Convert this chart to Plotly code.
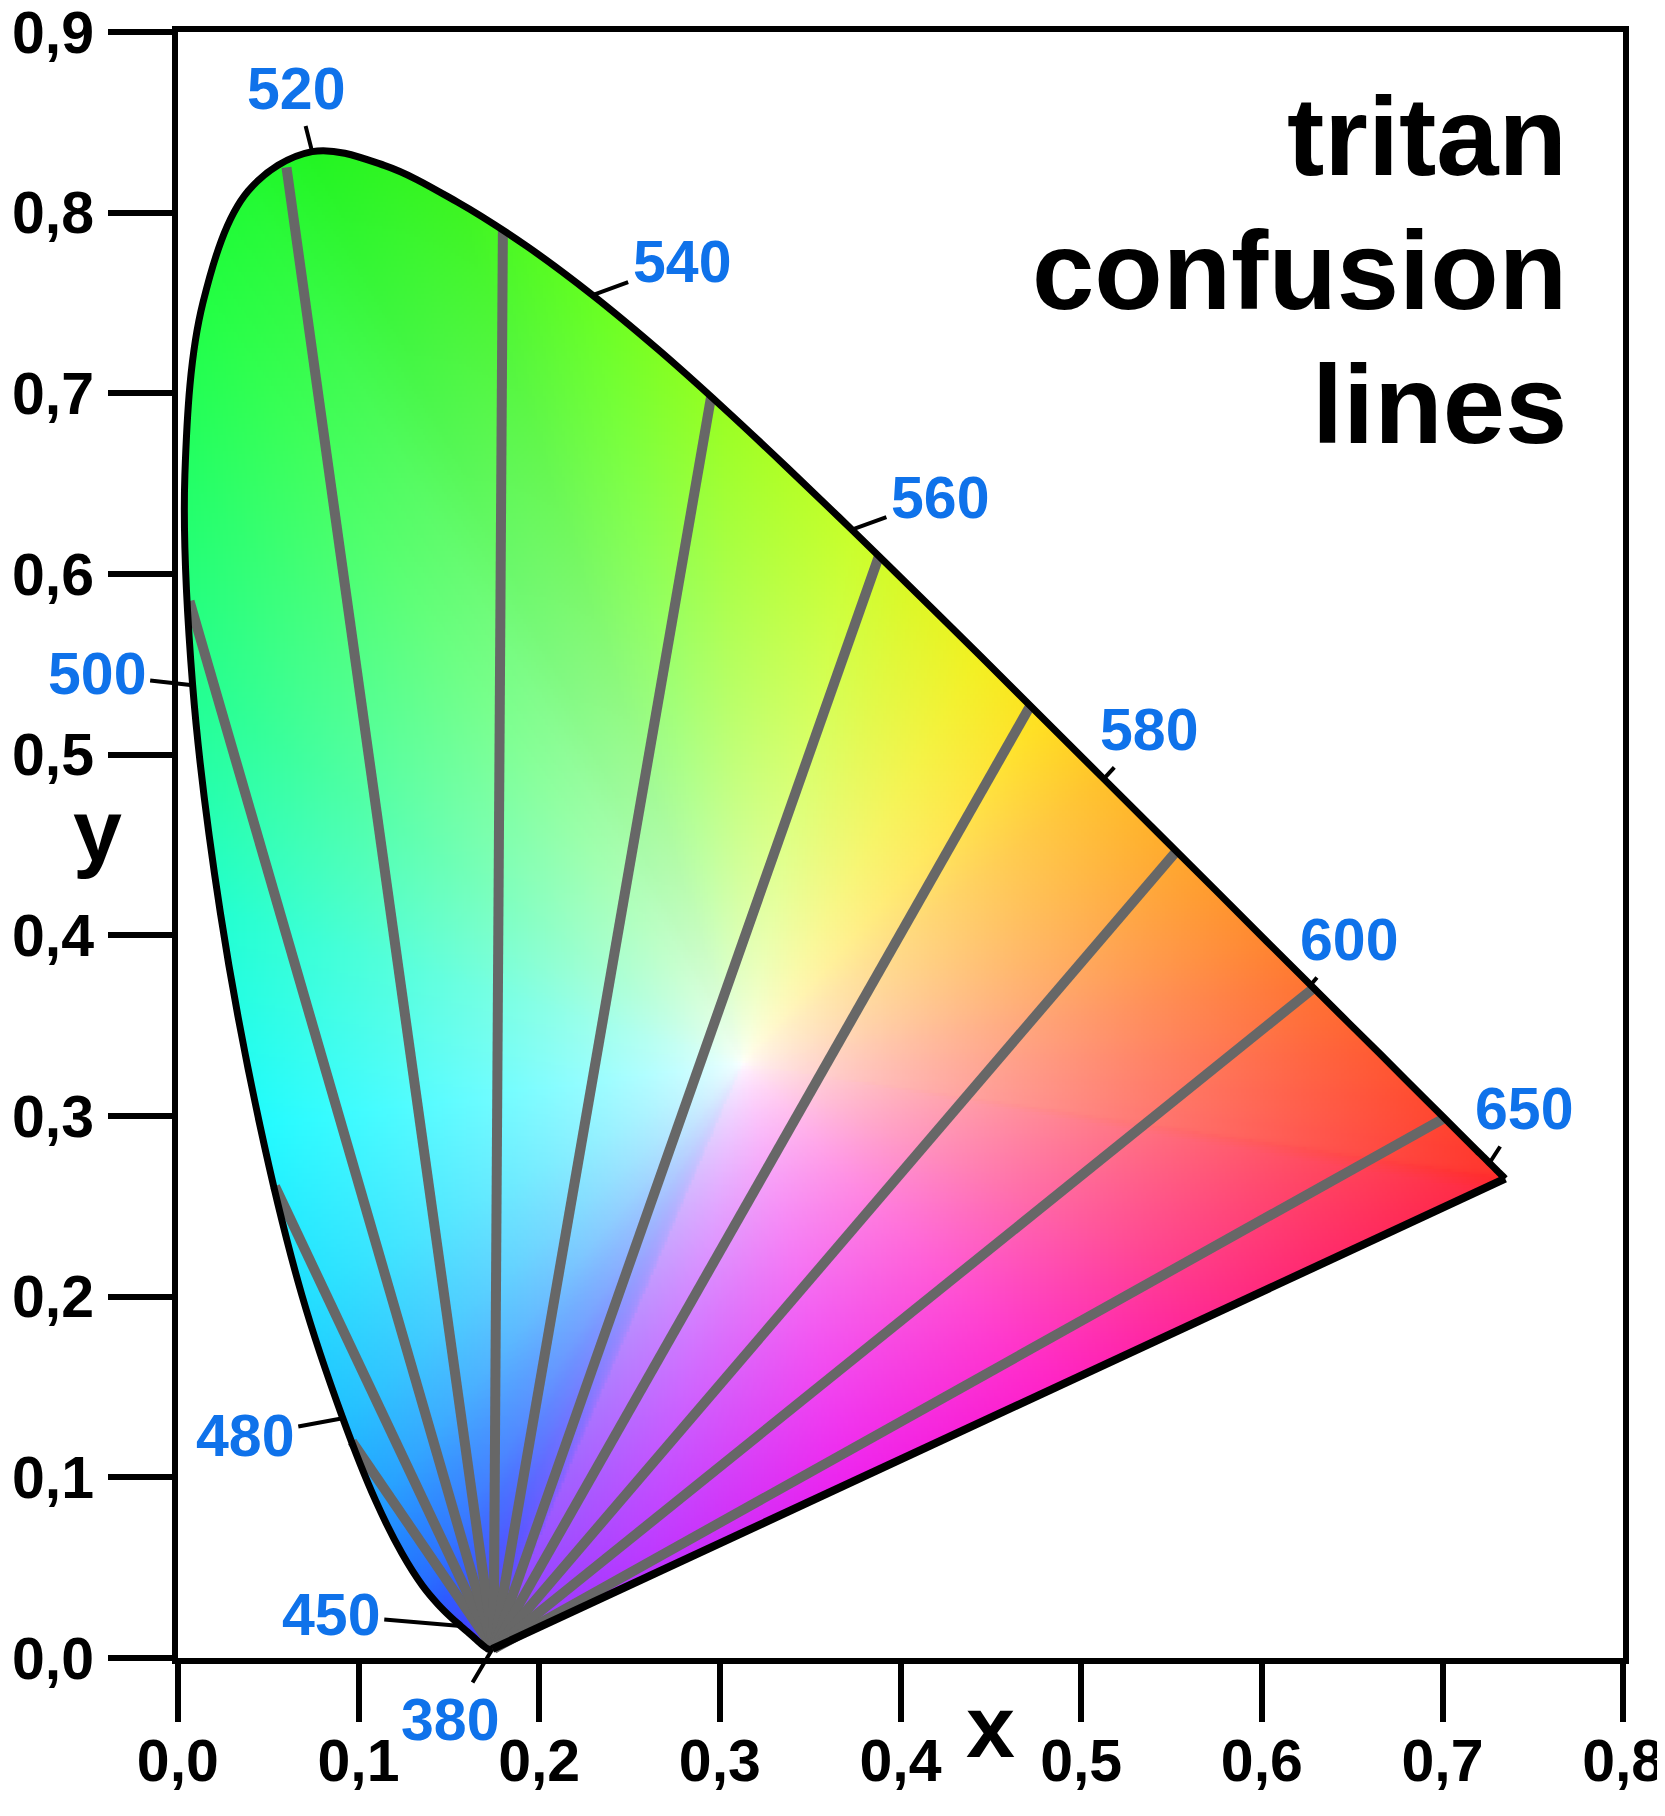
import numpy as np
import plotly.graph_objects as go

# CIE 1931 2-degree spectral locus, 380-700 nm in 5 nm steps
wavelength = list(range(380, 705, 5))
locus_x = [0.1741, 0.1740, 0.1738, 0.1736, 0.1733, 0.1730, 0.1726, 0.1721, 0.1714, 0.1703,
           0.1689, 0.1669, 0.1644, 0.1611, 0.1566, 0.1510, 0.1440, 0.1355, 0.1241, 0.1096,
           0.0913, 0.0687, 0.0454, 0.0235, 0.0082, 0.0039, 0.0139, 0.0389, 0.0743, 0.1142,
           0.1547, 0.1929, 0.2296, 0.2658, 0.3016, 0.3373, 0.3731, 0.4087, 0.4441, 0.4788,
           0.5125, 0.5448, 0.5752, 0.6029, 0.6270, 0.6482, 0.6658, 0.6801, 0.6915, 0.7006,
           0.7079, 0.7140, 0.7190, 0.7230, 0.7260, 0.7283, 0.7300, 0.7311, 0.7320, 0.7327,
           0.7334, 0.7340, 0.7344, 0.7346, 0.7347]
locus_y = [0.0050, 0.0050, 0.0049, 0.0049, 0.0048, 0.0048, 0.0048, 0.0048, 0.0051, 0.0058,
           0.0069, 0.0086, 0.0109, 0.0138, 0.0177, 0.0227, 0.0297, 0.0399, 0.0578, 0.0868,
           0.1327, 0.2007, 0.2950, 0.4127, 0.5384, 0.6548, 0.7502, 0.8120, 0.8338, 0.8262,
           0.8059, 0.7816, 0.7543, 0.7243, 0.6923, 0.6589, 0.6245, 0.5896, 0.5547, 0.5202,
           0.4866, 0.4544, 0.4242, 0.3965, 0.3725, 0.3514, 0.3340, 0.3197, 0.3083, 0.2993,
           0.2920, 0.2859, 0.2809, 0.2770, 0.2740, 0.2717, 0.2700, 0.2689, 0.2680, 0.2673,
           0.2666, 0.2660, 0.2656, 0.2654, 0.2653]

# tritan copunctal point and the wavelengths where the confusion lines meet the locus
copunctal_x = 0.1748
copunctal_y = 0.0050
confusion_wl = [478.6, 488.2, 502.0, 518.0, 533.3, 549.1, 562.1, 574.0, 586.3, 600.4, 625.3]

label_wl = [380, 450, 480, 500, 520, 540, 560, 580, 600, 650]
tick_vals = [0.0, 0.1, 0.2, 0.3, 0.4, 0.5, 0.6, 0.7, 0.8, 0.9]

# white point and the colours seen along the border of the diagram
white_x, white_y = 0.3127, 0.3290
edge_wl = [380, 420, 440, 450, 460, 470, 475, 480, 485, 490, 495, 500, 505, 510, 520,
           530, 540, 550, 560, 570, 575, 580, 590, 600, 610, 620, 640, 700]
edge_hex = ["#8a3cff", "#6a3cff", "#4a40ff", "#3a48ff", "#2a5cff", "#2280ff", "#22a0ff",
            "#22c0ff", "#22e0ff", "#22fbff", "#22ffd0", "#22ff90", "#22ff66", "#22ff44",
            "#22f522", "#3cf522", "#66ff22", "#99ff22", "#c8ff2a", "#f2f020", "#ffe020",
            "#ffc22a", "#ff9a2e", "#ff7432", "#ff5a32", "#ff4a30", "#ff3a2e", "#ff2a2a"]
purple_t = [0.0, 0.25, 0.45, 0.65, 0.85, 1.0]      # 700 nm end -> 380 nm end
purple_hex = ["#ff2a3c", "#ff2a80", "#ff22c8", "#ee22ee", "#bb33ff", "#8a3cff"]

FONT = "Liberation Sans, Arial, sans-serif"
BLUE = "#0f72ea"

lx = np.array(locus_x)
ly = np.array(locus_y)
wl = np.array(wavelength, dtype=float)


def hex_rgb(h):
    return [int(h[i:i + 2], 16) / 255 for i in (1, 3, 5)]


def spline_path(xs, ys, smooth=1.0, n=12):
    # same curve plotly draws for line_shape="spline"
    pts = np.column_stack([xs, ys])
    tang = []
    for i in range(1, len(pts) - 1):
        d1 = pts[i - 1] - pts[i]
        d2 = pts[i + 1] - pts[i]
        d1a = np.hypot(*d1) ** 0.5
        d2a = np.hypot(*d2) ** 0.5
        num = (d2a * d2a * d1 - d1a * d1a * d2) * smooth
        den1 = 3 * d2a * (d1a + d2a)
        den2 = 3 * d1a * (d1a + d2a)
        tang.append((pts[i] + num / den1, pts[i] - num / den2))
    t = np.linspace(0, 1, n, endpoint=False)[:, None]
    out = [(1 - t) ** 2 * pts[0] + 2 * (1 - t) * t * tang[0][0] + t ** 2 * pts[1]]
    for i in range(2, len(pts) - 1):
        p0, c1, c2, p3 = pts[i - 1], tang[i - 2][1], tang[i - 1][0], pts[i]
        out.append((1 - t) ** 3 * p0 + 3 * (1 - t) ** 2 * t * c1 + 3 * (1 - t) * t ** 2 * c2 + t ** 3 * p3)
    t1 = np.linspace(0, 1, n + 1)[:, None]
    out.append((1 - t1) ** 2 * pts[-2] + 2 * (1 - t1) * t1 * tang[-1][1] + t1 ** 2 * pts[-1])
    return np.vstack(out)


# ---- colour field inside the horseshoe ----
step = 0.0015
gx = np.arange(0.0, 0.76, step)
gy = np.arange(0.0, 0.85, step)
X, Y = np.meshgrid(gx, gy)

edge_rgb = np.array([hex_rgb(h) for h in edge_hex])
purple_rgb = np.array([hex_rgb(h) for h in purple_hex])
loc_col = np.column_stack([np.interp(wl, edge_wl, edge_rgb[:, k]) for k in range(3)])
tt = np.linspace(0, 1, 40)[1:-1]
pur_x = lx[-1] + (lx[0] - lx[-1]) * tt
pur_y = ly[-1] + (ly[0] - ly[-1]) * tt
pur_col = np.column_stack([np.interp(tt, purple_t, purple_rgb[:, k]) for k in range(3)])
bx = np.concatenate([lx, pur_x])
by = np.concatenate([ly, pur_y])
bcol = np.vstack([loc_col, pur_col])
ang_b = np.arctan2(by - white_y, bx - white_x)
dist_b = np.hypot(bx - white_x, by - white_y)

ang = np.arctan2(Y - white_y, X - white_x)
dist = np.hypot(X - white_x, Y - white_y)
d_edge = np.interp(ang, ang_b, dist_b, period=2 * np.pi)
s = np.clip(dist / d_edge, 0, 1) ** 0.65
col = np.stack([np.interp(ang, ang_b, bcol[:, k], period=2 * np.pi) for k in range(3)], axis=-1)
rgb = 1 - s[..., None] * (1 - col)

curve = spline_path(lx, ly)
px = np.append(curve[:, 0], curve[0, 0])
py = np.append(curve[:, 1], curve[0, 1])
inside = np.zeros(X.shape, dtype=bool)
with np.errstate(divide="ignore", invalid="ignore"):
    for i in range(len(px) - 1):
        xi, yi, xj, yj = px[i], py[i], px[i + 1], py[i + 1]
        if yi == yj:
            continue
        inside ^= ((yi > Y) != (yj > Y)) & (X < (xj - xi) * (Y - yi) / (yj - yi) + xi)

img = np.zeros(X.shape + (4,), dtype=np.uint8)
img[..., :3] = np.round(np.clip(rgb, 0, 1) * 255).astype(np.uint8)
img[..., 3] = np.where(inside, 255, 0).astype(np.uint8)

fig = go.Figure()

fig.add_trace(
    go.Image(z=img, colormodel="rgba256", x0=gx[0], dx=step, y0=gy[0], dy=step,
             zsmooth="fast", hoverinfo="skip")
)

# confusion lines
end_x = np.interp(confusion_wl, wl, lx)
end_y = np.interp(confusion_wl, wl, ly)
cx, cy = [], []
for ex, ey in zip(end_x, end_y):
    cx += [copunctal_x, ex, None]
    cy += [copunctal_y, ey, None]
fig.add_trace(
    go.Scatter(x=cx, y=cy, mode="lines", line=dict(color="#676767", width=10),
               hoverinfo="skip", showlegend=False)
)

# line of purples and spectral locus
fig.add_trace(
    go.Scatter(x=[locus_x[-1], locus_x[0]], y=[locus_y[-1], locus_y[0]], mode="lines",
               line=dict(color="black", width=8), hoverinfo="skip", showlegend=False)
)
fig.add_trace(
    go.Scatter(x=locus_x, y=locus_y, mode="lines",
               line=dict(color="black", width=7, shape="spline", smoothing=1.0),
               hoverinfo="skip", showlegend=False)
)

# wavelength labels (pixel offsets of the text from the locus point)
label_off = {
    380: (-42, 71), 450: (-130, -11), 480: (-98, 18), 500: (-96, -11),
    520: (-16, -63), 540: (89, -33), 560: (88, -32), 580: (45, -49),
    600: (38, -45), 650: (35, -54),
}
for w in label_wl:
    ax, ay = label_off[w]
    fig.add_annotation(
        x=float(np.interp(w, wl, lx)), y=float(np.interp(w, wl, ly)),
        text=str(w), showarrow=True, arrowhead=0, arrowwidth=4, arrowcolor="black",
        standoff=0, ax=ax, ay=ay, borderpad=4,
        font=dict(family=FONT, size=59, color=BLUE, weight="bold"),
    )

# title block
for txt, yy in [("tritan", 0.842), ("confusion", 0.768), ("lines", 0.694)]:
    fig.add_annotation(
        x=0.9614, xref="paper", y=yy, yref="y", text=txt, showarrow=False,
        xanchor="right", yanchor="middle",
        font=dict(family=FONT, size=112, color="black", weight="bold"),
    )

# axis letters
fig.add_annotation(x=0.45, xref="x", y=-0.042, yref="paper", text="x", showarrow=False,
                   yanchor="middle", font=dict(family=FONT, size=88, color="black", weight="bold"))
fig.add_annotation(x=-0.054, xref="paper", y=0.458, yref="y", text="y", showarrow=False,
                   xanchor="center", yanchor="middle",
                   font=dict(family=FONT, size=88, color="black", weight="bold"))

axis_common = dict(
    showgrid=False, zeroline=False, showline=True, linecolor="black", linewidth=6,
    mirror=True, ticks="outside", tickcolor="black", tickwidth=6, automargin=False,
    ticklabeloverflow="allow", tickformat=".1f",
    tickfont=dict(family=FONT, size=59, color="black", weight="bold"),
)
fig.update_xaxes(range=[0, 0.8], tickvals=tick_vals[:9], ticklen=58,
                 ticklabelstandoff=-12, **axis_common)
fig.update_yaxes(range=[0, 0.9], tickvals=tick_vals, ticklen=64,
                 ticklabelstandoff=2, **axis_common)

# the page body adds an 8 px margin, so the figure is 8 px smaller each way
fig.update_layout(
    width=1657,
    height=1808,
    margin=dict(l=168, r=40, t=24, b=158),
    paper_bgcolor="white",
    plot_bgcolor="white",
    separators=",.",
    showlegend=False,
)

fig.write_html("out.html")
